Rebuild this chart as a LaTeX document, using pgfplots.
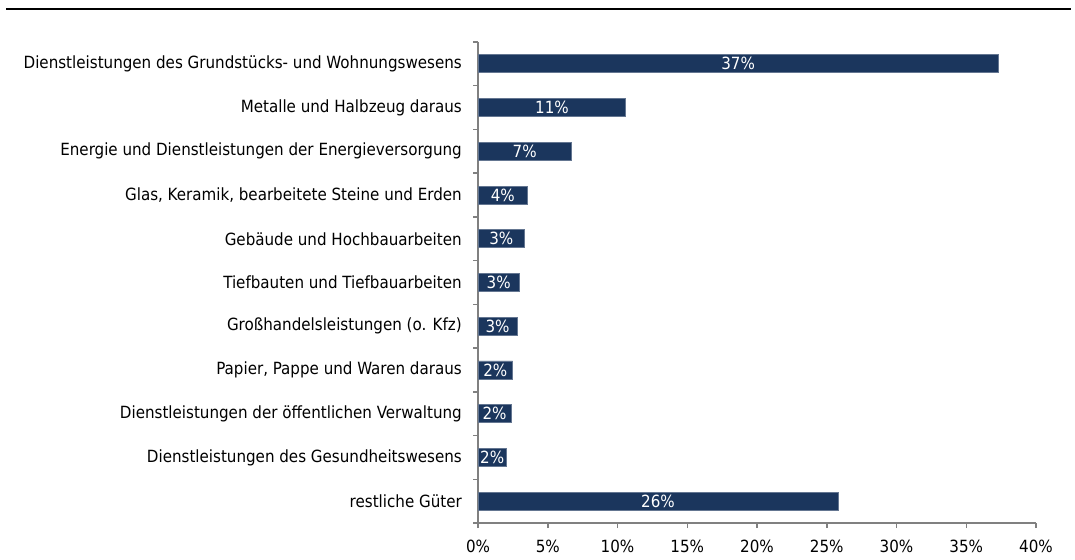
\documentclass[border=0pt]{standalone}
\usepackage{pgfplots}
\pgfplotsset{compat=1.18}
\usepackage{fontspec}
\setmainfont{DejaVu Sans Condensed}
\definecolor{barblue}{RGB}{27,54,93}
\definecolor{baredge}{RGB}{100,118,145}
\definecolor{axgray}{RGB}{128,128,128}
\newcommand{\lblfont}{\fontsize{16.8bp}{19bp}\selectfont}
\begin{document}
\begin{tikzpicture}[x=1bp,y=1bp]
\useasboundingbox (0,0) rectangle (1075,560);
\draw[line width=2.5bp,black] (6,551) -- (1071,551);
\begin{axis}[
  at={(478bp,37bp)}, anchor=south west,
  scale only axis, width=558bp, height=481bp,
  xmin=0, xmax=40, ymin=-0.5, ymax=10.5,
  y dir=reverse,
  xbar, bar width=0.41,
  axis x line*=bottom, axis y line*=left,
  axis line style={draw=axgray, line width=1.5bp},
  tick style={draw=axgray, line width=1.5bp},
  tick align=outside,
  xtick={0,5,...,40},
  xticklabels={0\%,5\%,10\%,15\%,20\%,25\%,30\%,35\%,40\%},
  xticklabel style={font=\lblfont, anchor=north, inner sep=0pt, yshift=-12bp},
  major tick length=5bp,
  ytick={0,...,10},
  yticklabels={Dienstleistungen des Grundstücks- und Wohnungswesens,
    Metalle und Halbzeug daraus,
    Energie und Dienstleistungen der Energieversorgung,
    {Glas, Keramik, bearbeitete Steine und Erden},
    Gebäude und Hochbauarbeiten,
    Tiefbauten und Tiefbauarbeiten,
    Großhandelsleistungen (o. Kfz),
    Papier{,} Pappe und Waren daraus,
    Dienstleistungen der öffentlichen Verwaltung,
    Dienstleistungen des Gesundheitswesens,
    restliche Güter},
  yticklabel style={font=\lblfont, anchor=east, inner sep=0pt, xshift=-11bp},
  major y tick style={draw=none},
  minor ytick={-0.5,0.5,...,10.5},
  minor tick length=5bp,
  nodes near coords={\pgfplotspointmeta},
  point meta=explicit symbolic,
  visualization depends on=rawx \as \rawx,
  nodes near coords style={font=\lblfont, text=white, anchor=center, inner sep=0pt,
    shift={(axis direction cs:-\rawx/2,0)}},
  clip=false,
]
\addplot[fill=barblue, draw=baredge, line width=0.8bp] table[x=v, y=c, meta=lab] {
c v lab
0 37.3 37\%
1 10.6 11\%
2 6.7 7\%
3 3.56 4\%
4 3.35 3\%
5 2.96 3\%
6 2.8 3\%
7 2.49 2\%
8 2.37 2\%
9 2.03 2\%
10 25.8 26\%
};
\end{axis}
\end{tikzpicture}
\end{document}
